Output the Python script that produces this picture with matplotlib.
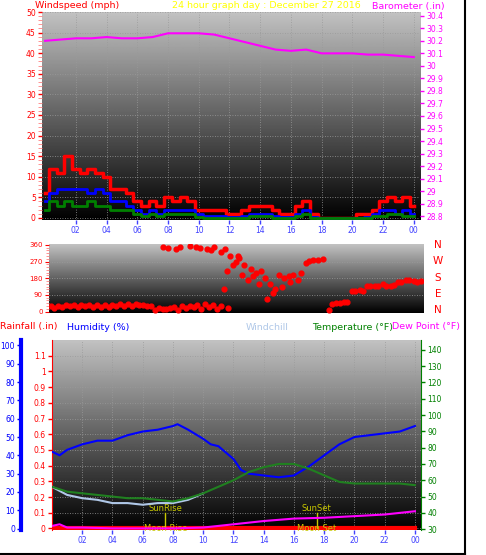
import numpy as np
import matplotlib
matplotlib.use("Agg")
import matplotlib.pyplot as plt
from matplotlib.ticker import MultipleLocator

W, H = 486, 555
fig = plt.figure(figsize=(W/100, H/100), dpi=100)
fig.patch.set_facecolor("white")

# ---------------- data ----------------
wind_hours = [i*0.5 for i in range(49)]
gust = [6,12,11,15,12,11,12,11,10,7,7,6,4,3,4,3,5,4,5,4,2,2,2,2,1,1,2,3,3,3,2,1,1,3,4,1,0,0,0,0,0,1,1,2,4,5,4,5,3]
avg_wind = [4,6,7,7,7,7,6,7,6,4,4,3,2,1,2,1,2,2,2,2,1,0.5,0.5,0.5,0.3,0.3,0.5,1,1,1,0.5,0.3,0.3,1,2,0.3,0,0,0,0,0,0,0.3,1,2,2,1,2,1]
low_wind = [2,4,3,4,3,3,4,3,3,2,2,2,1,0.5,1,0.5,1,1,1,1,0.3,0,0,0,0,0,0,0.5,0.5,0.5,0,0,0,0.5,1,0,0,0,0,0,0,0,0,0.5,0.5,1,1,0.5,0.5]

baro_hours = [0,1,2,3,4,5,6,7,8,9,10,11,12,13,14,15,16,17,18,19,20,21,22,23,24]
baro = [30.20,30.21,30.22,30.22,30.23,30.22,30.22,30.23,30.26,30.26,30.26,30.25,30.22,30.19,30.16,30.13,30.12,30.13,30.10,30.10,30.10,30.09,30.09,30.08,30.07]

dir_hours = [0,0.5,1,1.5,2,2.5,3,3.5,4,4.5,5,5.5,6,6.5,7,7.5,8,8.5,9,9.5,10,10.5,11,11.5,
             0.25,0.75,1.25,1.75,2.25,2.75,3.25,3.75,4.25,4.75,5.25,5.75,6.25,6.75,7.25,7.75,8.25,8.75,9.25,9.75,10.25,10.75,
             7.3,7.6,8.1,8.4,9.0,9.4,9.7,10.1,10.4,10.6,11.0,11.3,11.6,12.0,12.2,
             11.2,11.4,11.8,12.4,12.8,13.1,13.3,13.6,13.9,14.2,14.5,14.8,15.1,15.4,15.7,16.0,16.2,
             16.5,16.7,17.0,17.3,17.6,
             12.1,12.5,13.0,13.5,14.0,14.4,15.0,15.5,
             18.0,18.2,18.5,19.0,19.5,20.0,20.5,21.0,21.5,22.0,22.5,23.0,23.5,24.0,
             18.7,19.2,19.7,20.2,20.7,21.2,21.7,22.2,22.7,23.2,23.7]
dir_vals = [30,32,35,33,36,34,33,35,36,38,40,42,36,30,20,15,25,28,30,35,40,35,30,20,
            20,25,28,22,30,25,27,24,30,32,28,35,30,10,12,18,10,20,22,15,25,12,
            350,345,340,350,355,350,345,340,330,350,320,340,300,270,290,
            120,220,250,200,170,190,210,220,180,150,120,200,180,190,200,170,210,
            260,275,280,280,285,
            300,250,230,150,70,100,130,160,
            10,40,45,50,110,115,140,140,150,140,160,170,165,165,
            45,50,110,112,138,140,140,145,160,168,160]

clim_hours = [0,0.5,1,2,3,4,5,6,7,8,8.3,9,10,10.5,11,12,12.5,13,14,15,16,17,18,19,20,21,22,23,24]
humidity = [42,40,43,46,48,48,51,53,54,56,57,54,49,46,45,38,32,30,29,28,29,34,40,46,50,51,52,53,56]
temp_hours = [0,1,2,3,4,5,6,7,8,9,10,11,12,13,14,15,16,17,18,19,20,21,22,23,24]
temperature = [56,53,52,51,50,49,49,48,47,49,52,56,60,65,68,70,70,67,63,59,58,58,58,58,57]
chill_hours = [0,1,2,3,4,5,6,7,8,9,10]
windchill = [56,51,49,48,46,46,45,46,46,48,52]
dew_hours = [0,0.5,1,2,4,6,8,10,12,14,16,18,20,22,24]
dewpoint = [32,33,31,31,30.5,30.5,30.5,31,33,35,36.5,37,38,39,41]
rain_hours = [0,24]
rainfall = [0,0]
hour_ticks = [2,4,6,8,10,12,14,16,18,20,22,24]
hour_labels = ["02","04","06","08","10","12","14","16","18","20","22","00"]

def rect(l, t, r, b):
    return [l/W, 1-b/H, (r-l)/W, (b-t)/H]

grad = np.linspace(0.76, 0.0, 256).reshape(-1, 1)

def bg(ax):
    ax.set_facecolor("black")
    ax.imshow(grad, cmap="gray", vmin=0, vmax=1, aspect="auto",
              extent=[0, 1, 0, 1], transform=ax.transAxes, zorder=0)
    ax.grid(True, color="#9a9a9a", linestyle=(0, (1, 2)), linewidth=0.6)

tk = dict(labelsize=5.5, length=3, width=1, pad=1.5)
FS = 6.8

# ---------------- top panel ----------------
ax1 = fig.add_axes(rect(42, 12, 420, 220))
bg(ax1)
ax1.set_xlim(-0.2, 24.4)
ax1.set_ylim(-0.5, 50)
ax1.step(wind_hours, gust, where="mid", color="red", lw=2.5, zorder=3)
ax1.step(wind_hours, avg_wind, where="mid", color="blue", lw=2, zorder=4)
ax1.step(wind_hours, low_wind, where="mid", color="green", lw=2, zorder=5)
ax1.yaxis.set_major_locator(MultipleLocator(5))
ax1.yaxis.set_minor_locator(MultipleLocator(1))
ax1.tick_params(axis="y", colors="red", **tk)
ax1.tick_params(axis="y", which="minor", colors="#ff8080", length=3)
ax1.set_xticks(hour_ticks, hour_labels)
ax1.tick_params(axis="x", colors="#4040ff", **tk)
for s in ax1.spines.values():
    s.set_visible(False)
ax1b = ax1.twinx()
ax1b.set_ylim(28.77, 30.43)
ax1b.plot(baro_hours, baro, color="#ff00ff", lw=1.5, zorder=6)
bt = np.round(np.arange(28.8, 30.41, 0.1), 1)
ax1b.set_yticks(bt)
ax1b.set_yticklabels([f"{v:g}" for v in bt])
ax1b.tick_params(axis="y", colors="#ff00ff", **tk)
for s in ax1b.spines.values():
    s.set_visible(False)

fig.text(35/W, 1-6/H, "Windspeed (mph)", color="red", fontsize=FS, va="center")
fig.text(172/W, 1-6/H, "24 hour graph day : December 27 2016", color="yellow", fontsize=FS, va="center")
fig.text(372/W, 1-6/H, "Barometer (.in)", color="#ff00ff", fontsize=FS, va="center")

# ---------------- middle panel ----------------
ax2 = fig.add_axes(rect(49, 244, 423, 313))
bg(ax2)
ax2.grid(False)
for yv in [90, 180, 270]:
    ax2.axhline(yv, color="#9a9a9a", lw=0.6, ls=(0, (1, 2)))
ax2.set_xlim(-0.1, 24.1)
ax2.set_ylim(-8, 365)
ax2.scatter(dir_hours, dir_vals, s=12, color="red", zorder=3)
ax2.set_yticks([0, 90, 180, 270, 360])
ax2.yaxis.set_minor_locator(MultipleLocator(15))
ax2.tick_params(axis="y", colors="red", labelsize=5, length=3, pad=1.5)
ax2.tick_params(axis="y", which="minor", colors="#ff8080", length=2)
ax2.set_xticks([])
for s in ax2.spines.values():
    s.set_visible(False)
for lab, yy in zip("NWSEN", [245, 261, 278, 294, 310]):
    fig.text(438/W, 1-yy/H, lab, color="red", fontsize=7.5, ha="center", va="center")

# ---------------- bottom panel ----------------
y0 = 327
fig.text(0, 1-y0/H, "Rainfall (.in)", color="red", fontsize=FS, va="center")
fig.text(67/W, 1-y0/H, "Humidity (%)", color="blue", fontsize=FS, va="center")
fig.text(246/W, 1-y0/H, "Windchill", color="#b0c8e8", fontsize=FS, va="center")
fig.text(312/W, 1-y0/H, "Temperature (°F)", color="green", fontsize=FS, va="center")
fig.text(392/W, 1-y0/H, "Dew Point (°F)", color="#ff00ff", fontsize=FS, va="center")

ax3 = fig.add_axes(rect(52, 340, 421, 530))
bg(ax3)
ax3.set_xlim(0, 24.4)
ax3.set_ylim(-0.01, 1.2)
ax3.plot(rain_hours, rainfall, color="red", lw=3, zorder=6)
rt = np.round(np.arange(0, 1.11, 0.1), 1)
ax3.set_yticks(rt)
ax3.set_yticklabels([f"{v:g}" for v in rt])
ax3.tick_params(axis="y", colors="red", **tk)
ax3.set_xticks(hour_ticks, hour_labels)
ax3.tick_params(axis="x", colors="#4040ff", **tk)
for s in ax3.spines.values():
    s.set_visible(False)
ax3.spines["left"].set_visible(True)
ax3.spines["left"].set_color("red")
ax3.spines["left"].set_linestyle((0, (1, 1)))
for hx, lab_top, lab_bot in [(7.5, "SunRise", "Moon Rise"), (17.5, "SunSet", "Moon Set")]:
    ax3.plot([hx, hx], [0, 0.1], color="#c8c800", lw=1, zorder=7)
    ax3.text(hx, 0.1, lab_top, color="#c8c800", fontsize=6, ha="center", va="bottom", zorder=8)
    ax3.text(hx, 0.0, lab_bot, color="#c8c800", fontsize=6, ha="center", va="center", zorder=8)

ax3h = ax3.twinx()
ax3h.yaxis.tick_left()
ax3h.yaxis.set_label_position("left")
ax3h.spines["left"].set_position(("outward", 22))
ax3h.spines["left"].set_color("blue")
ax3h.spines["left"].set_linewidth(3)
for k in ["right", "top", "bottom"]:
    ax3h.spines[k].set_visible(False)
ax3h.set_ylim(-0.8, 103)
ax3h.set_yticks(range(0, 101, 10))
ax3h.tick_params(axis="y", colors="blue", **tk)
ax3h.plot(clim_hours, humidity, color="blue", lw=1.5, zorder=5)

ax3t = ax3.twinx()
ax3t.set_ylim(29.5, 146)
ax3t.set_yticks(range(30, 141, 10))
ax3t.tick_params(axis="y", colors="green", **tk)
for k in ["left", "top", "bottom"]:
    ax3t.spines[k].set_visible(False)
ax3t.spines["right"].set_color("green")
ax3t.spines["right"].set_linestyle((0, (1, 1)))
ax3t.plot(chill_hours, windchill, color="#b0c8e8", lw=1.5, zorder=4)
ax3t.plot(temp_hours, temperature, color="#208020", lw=1.5, zorder=5)
ax3t.plot(dew_hours, dewpoint, color="#ff00ff", lw=1.5, zorder=5)

fig.add_artist(plt.Line2D([465/W, 465/W], [0, 1], color="black", lw=1.5, transform=fig.transFigure))
fig.add_artist(plt.Line2D([0, 465/W], [1/H, 1/H], color="black", lw=1.5, transform=fig.transFigure))

fig.savefig("out.png", dpi=100, facecolor="white")
